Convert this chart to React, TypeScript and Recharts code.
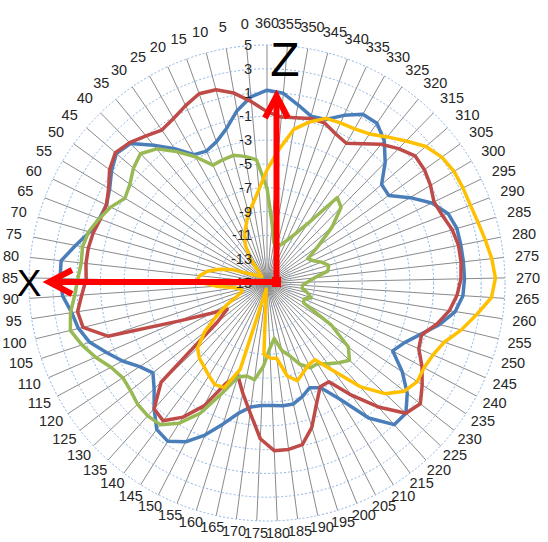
import { RadarChart, Radar, PolarGrid, PolarAngleAxis, PolarRadiusAxis } from 'recharts';

// chart geometry
const CX = 267;
const CY = 283;
const OUTER_R = 238;

// angle categories (degrees), drawn clockwise from the top as 360, 355 ... 0
const angles = [
  0, 5, 10, 15, 20, 25, 30, 35, 40, 45, 50, 55, 60, 65, 70, 75, 80, 85,
  90, 95, 100, 105, 110, 115, 120, 125, 130, 135, 140, 145, 150, 155, 160, 165, 170, 175,
  180, 185, 190, 195, 200, 205, 210, 215, 220, 225, 230, 235, 240, 245, 250, 255, 260, 265,
  270, 275, 280, 285, 290, 295, 300, 305, 310, 315, 320, 325, 330, 335, 340, 345, 350, 355, 360,
];

// values per angle, same order as `angles`
const blueSeries = [
  0.7, -0.3, -1.6, -2.4, -2.8, -2.6, -1.3, 0.0, 1.4, 1.7, 1.1, 0.4, 0.0, 0.1, 0.5, 1.4, 2.4, 2.4,
  2.2, 1.6, 1.3, 0.7, -0.3, -1.2, -2.2, -2.8, -2.0, -0.8, 0.4, 0.7, 0.0, -1.2, -2.6, -3.8, -4.5, -4.7,
  -4.7, -4.6, -4.6, -5.0, -5.5, -5.1, -3.5, -0.8, 1.0, 1.0, 0.0, -1.4, -3.0, -2.4, -1.4, -0.1, 1.0, 1.5,
  1.6, 1.6, 1.6, 1.6, 1.3, 0.4, -1.0, -2.4, -2.3, -0.8, 0.5, 1.3, 1.3, 0.5, -0.4, -0.5, 0.2, 1.0, 1.2,
];

const redSeries = [
  0.3, 1.2, 1.8, 1.9, 1.4, 0.9, 0.6, 1.0, 1.5, 1.8, 1.3, 0.5, 0.0, 0.0, 0.2, 0.3, 0.3, 0.2,
  0.6, 1.1, 0.9, -0.9, -7.0, -9.6, -11.0, -9.7, -2.8, -0.8, -0.5, -1.7, -3.4, -5.9, -6.8, -5.5, -4.0, -1.9,
  -0.9, -0.9, -1.1, -2.3, -4.0, -5.2, -5.2, -3.2, -1.0, 1.0, 1.4, 0.6, -0.2, -1.1, -1.3, -0.3, 0.5, 1.0,
  1.3, 1.4, 1.4, 1.2, 0.8, 0.6, 1.0, 1.3, 1.4, 0.8, 0.1, -0.8, -1.5, -1.2, -0.7, -0.7, -0.9, -1.0, -0.6,
];

const greenSeries = [
  -4.6, -4.2, -3.9, -4.0, -4.1, -2.8, -1.6, -0.4, 0.2, -0.2, -0.8, -1.1, -0.4, 0.1, 0.6, 0.8, 0.7, 0.9,
  1.2, 1.7, 2.0, 1.4, 0.7, -0.1, -0.5, -0.4, -0.1, 0.0, -0.1, -1.1, -2.7, -5.0, -6.7, -7.0, -6.8, -8.0,
  -9.5, -10.3, -9.2, -8.6, -7.6, -7.0, -7.0, -6.5, -6.0, -5.5, -6.3, -8.5, -11.5, -11.6, -11.1, -11.5, -12.0, -12.0,
  -11.6, -11.0, -9.8, -9.6, -10.1, -10.7, -11.0, -9.7, -7.8, -6.1, -5.7, -8.9, -10.3, -11.1, -11.6, -11.6, -11.6, -10.0, -7.0,
];

const yellowSeries = [
  -7.1, -8.2, -8.9, -9.8, -10.5, -11.3, -12.5, -14.3, -14.2, -14.1, -13.9, -13.6, -13.1, -11.8, -10.8, -9.9, -9.3, -9.1,
  -10.8, -12.3, -12.8, -12.8, -12.3, -11.2, -9.9, -8.3, -7.0, -6.5, -6.2, -5.8, -5.4, -5.5, -7.4, -14.0, -14.5, -9.0,
  -8.7, -8.6, -7.0, -6.4, -6.9, -7.3, -7.4, -5.8, -3.3, -1.4, -0.3, 0.1, 0.0, 0.2, 0.7, 1.8, 2.8, 3.9,
  4.2, 4.0, 3.7, 3.45, 3.3, 3.3, 3.3, 3.1, 2.6, 1.7, 0.9, 0.2, -0.1, -0.2, -0.3, -1.0, -1.9, -3.8, -5.5,
];

const radiusTicks = [-15, -13, -11, -9, -7, -5, -3, -1, 1, 3, 5];

// category order runs 360 -> 0 clockwise
const data = angles
  .map((a, i) => ({
    angle: String(a),
    blue: blueSeries[i],
    red: redSeries[i],
    green: greenSeries[i],
    yellow: yellowSeries[i],
  }))
  .reverse();

const FONT = '"Liberation Sans", Arial, sans-serif';

const AngleTick = (props: any) => {
  const { x, y, payload } = props;
  const dx = x - CX;
  const dy = y - CY;
  const len = Math.hypot(dx, dy) || 1;
  const ux = dx / len;
  const uy = dy / len;
  const label = String(payload.value);
  const w = label.length * 8;
  const h = 12;
  const off = 11 - 5 * uy;
  const px = CX + ux * (OUTER_R + off) + (ux * w) / 2;
  const py = CY + uy * (OUTER_R + off) + (uy * h) / 2;
  return (
    <text x={px} y={py} textAnchor="middle" dominantBaseline="central" fontSize={14.5} fontFamily={FONT} fill="#262626">
      {label}
    </text>
  );
};

const RadiusTick = (props: any) => {
  const { x, y, payload } = props;
  return (
    <text x={x - 15} y={y} textAnchor="end" dominantBaseline="central" fontSize={14.5} fontFamily={FONT} fill="#262626">
      {payload.value}
    </text>
  );
};

export default function App() {
  return (
    <div style={{ position: 'absolute', left: 0, top: 0, width: 548, height: 542, background: '#fff' }}>
      <RadarChart
        width={548}
        height={542}
        cx={CX}
        cy={CY}
        outerRadius={OUTER_R}
        data={data}
        startAngle={90}
        endAngle={-270}
        margin={{ top: 0, right: 0, bottom: 0, left: 0 }}
      >
        {/* spokes only */}
        <PolarGrid gridType="circle" polarRadius={[0]} stroke="#8a8a8a" strokeWidth={1} />
        {/* dotted rings */}
        <PolarGrid gridType="circle" radialLines={false} stroke="#8db3e2" strokeDasharray="2 2" strokeWidth={1} />
        <PolarAngleAxis dataKey="angle" tick={AngleTick} axisLine={false} tickLine={false} />
        <PolarRadiusAxis
          angle={90}
          type="number"
          domain={[-15, 5]}
          ticks={radiusTicks}
          tickCount={11}
          allowDataOverflow
          axisLine={false}
          tickLine={false}
          tick={RadiusTick}
        />
        <Radar dataKey="blue" stroke="#4a7ebb" strokeWidth={3.5} fill="none" fillOpacity={0} dot={false} isAnimationActive={false} strokeLinejoin="round" />
        <Radar dataKey="red" stroke="#be4b48" strokeWidth={3.5} fill="none" fillOpacity={0} dot={false} isAnimationActive={false} strokeLinejoin="round" />
        <Radar dataKey="green" stroke="#98b954" strokeWidth={3.5} fill="none" fillOpacity={0} dot={false} isAnimationActive={false} strokeLinejoin="round" />
        <Radar dataKey="yellow" stroke="#ffc000" strokeWidth={3.5} fill="none" fillOpacity={0} dot={false} isAnimationActive={false} strokeLinejoin="round" />
      </RadarChart>
      {/* axis annotations drawn over the chart */}
      <svg width={548} height={542} style={{ position: 'absolute', left: 0, top: 0, pointerEvents: 'none' }}>
        <line x1={276.5} y1={287} x2={276.5} y2={98} stroke="#ff0000" strokeWidth={6} />
        <polyline points="265,118 276.5,96 288,118" fill="none" stroke="#ff0000" strokeWidth={6} strokeLinejoin="miter" />
        <line x1={280} y1={282} x2={51} y2={282} stroke="#ff0000" strokeWidth={6} />
        <polyline points="72,270 49,282 72,294" fill="none" stroke="#ff0000" strokeWidth={6} strokeLinejoin="miter" />
        <rect x={272} y={277} width={9} height={10} fill="#ff0000" />
        <text x={285} y={59} textAnchor="middle" dominantBaseline="central" fontSize={48} fontFamily={FONT} fill="#000">Z</text>
        <text x={29} y={283} textAnchor="middle" dominantBaseline="central" fontSize={37} fontFamily={FONT} fill="#000">X</text>
      </svg>
    </div>
  );
}
